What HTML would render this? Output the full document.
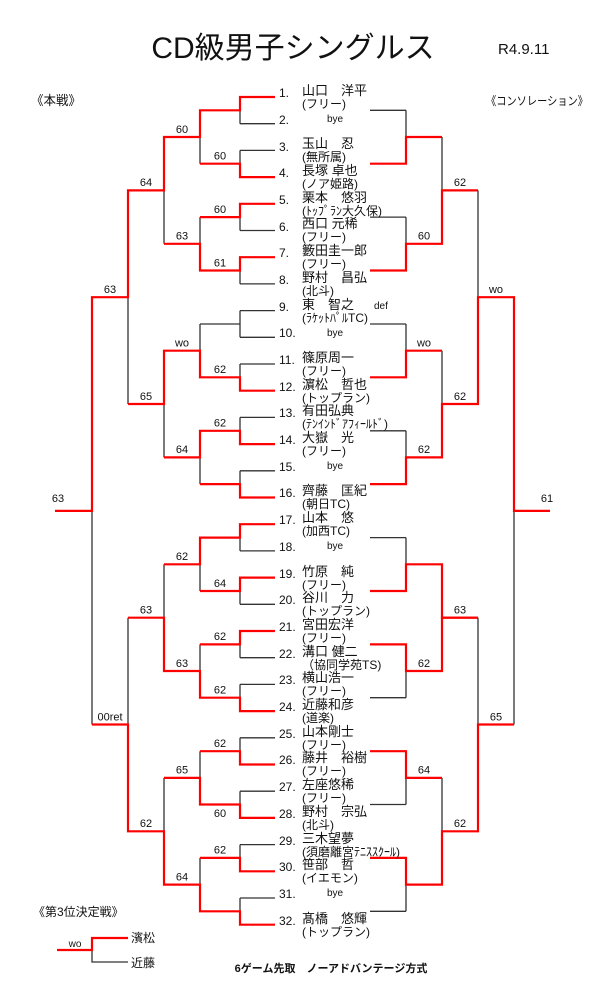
<!DOCTYPE html>
<html><head><meta charset="utf-8"><style>
html,body{margin:0;padding:0;background:#fff}
svg{display:block}
text{font-family:"Liberation Sans","Noto Sans CJK JP",sans-serif;fill:#111}
.n{font-size:12px}.nm{font-size:13px}.af{font-size:12px}.s{font-size:11px;text-anchor:middle}
.by{font-size:10px}
</style></head><body>
<svg width="600" height="1000" viewBox="0 0 600 1000" xmlns="http://www.w3.org/2000/svg">
<text x="293" y="58" font-size="30" text-anchor="middle">CD級男子シングルス</text>
<text x="498" y="54" font-size="15">R4.9.11</text>
<text x="31" y="105" font-size="13" textLength="50" lengthAdjust="spacingAndGlyphs">《本戦》</text>
<text x="486" y="105" font-size="12" textLength="102" lengthAdjust="spacingAndGlyphs">《コンソレーション》</text>

<g fill="none" stroke="#333" stroke-width="1.3">
<path d="M240 97H275M240 123.7H275M240 150.4H275M240 177.1H275M240 203.8H275M240 230.5H275M240 257.2H275M240 283.9H275M240 310.6H275M240 337.3H275M240 364H275M240 390.7H275M240 417.4H275M240 444.1H275M240 470.8H275M240 497.5H275M240 524.2H275M240 550.9H275M240 577.6H275M240 604.3H275M240 631H275M240 657.7H275M240 684.4H275M240 711.1H275M240 737.8H275M240 764.5H275M240 791.2H275M240 817.9H275M240 844.6H275M240 871.3H275M240 898H275M240 924.7H275"/>
<path d="M240 97V123.7M240 150.4V177.1M240 203.8V230.5M240 257.2V283.9M240 310.6V337.3M240 364V390.7M240 417.4V444.1M240 470.8V497.5M240 524.2V550.9M240 577.6V604.3M240 631V657.7M240 684.4V711.1M240 737.8V764.5M240 791.2V817.9M240 844.6V871.3M240 898V924.7"/>
<path d="M200 324H240"/>
<path d="M200 110.3V163.7M200 217.1V270.5M200 324V377.3M200 430.8V484.1M200 537.6V591M200 644.4V697.7M200 751.2V804.5M200 857.9V911.3"/>
<path d="M164 137V243.8M164 350.7V457.4M164 564.3V671M164 777.9V884.6"/>
<path d="M128 190.4V404M128 617.7V831.3M92 297.2V724.5"/>
<path d="M370 110.3H406M370 163.7H406M370 217.1H406M370 270.5H406M370 324H406M370 377.3H406M370 430.8H406M370 484.1H406M370 537.6H406M370 591H406M370 644.4H406M370 697.7H406M370 751.2H406M370 804.5H406M370 857.9H406M370 911.3H406"/>
<path d="M406 110.3V163.7M406 217.1V270.5M406 324V377.3M406 430.8V484.1M406 537.6V591M406 644.4V697.7M406 751.2V804.5M406 857.9V911.3"/>
<path d="M442 137V243.8M442 350.7V457.4M442 564.3V671M442 777.9V884.6M478 190.4V404M478 617.7V831.3M514 297.2V724.5"/>
<path d="M92 938V962H128"/>
</g>

<g fill="none" stroke="#f00" stroke-width="2.2">
<path d="M275 97H240V110.3H200V137H164V190.4H128V297.2H92V510.9H55"/>
<path d="M275 177.1H240V163.7H200"/>
<path d="M275 203.8H240V217.1H200"/>
<path d="M275 257.2H240V270.5H200V243.8H164"/>
<path d="M275 390.7H240V377.3H200V350.7H164V404H128"/>
<path d="M275 444.1H240V430.8H200V457.4H164"/>
<path d="M275 497.5H240V484.1H200"/>
<path d="M275 524.2H240V537.6H200V564.3H164"/>
<path d="M275 577.6H240V591H200"/>
<path d="M275 631H240V644.4H200"/>
<path d="M275 711.1H240V697.7H200V671H164V617.7H128"/>
<path d="M275 764.5H240V751.2H200"/>
<path d="M275 817.9H240V804.5H200V777.9H164"/>
<path d="M275 871.3H240V857.9H200"/>
<path d="M275 924.7H240V911.3H200V884.6H164V831.3H128V724.5H92"/>

<path d="M370 163.7H406V137H442"/>
<path d="M370 270.5H406V243.8H442V190.4H478"/>
<path d="M370 377.3H406V350.7H442"/>
<path d="M370 484.1H406V457.4H442V404H478V297.2H514V510.9H550"/>
<path d="M370 591H406V564.3H442V617.7H478"/>
<path d="M370 644.4H406V671H442V617.7H478"/>
<path d="M370 751.2H406V777.9H442"/>
<path d="M370 857.9H406V884.6H442V831.3H478V724.5H514"/>
<path d="M57 950H92V938H128"/>
</g>

<text class="s" x="220" y="159.5">60</text>
<text class="s" x="220" y="213">60</text>
<text class="s" x="220" y="266.5">61</text>
<text class="s" x="220" y="373">62</text>
<text class="s" x="220" y="426.5">62</text>
<text class="s" x="220" y="587">64</text>
<text class="s" x="220" y="640">62</text>
<text class="s" x="220" y="693.5">62</text>
<text class="s" x="220" y="747">62</text>
<text class="s" x="220" y="817">60</text>
<text class="s" x="220" y="853.5">62</text>
<text class="s" x="182" y="133">60</text>
<text class="s" x="182" y="239.5">63</text>
<text class="s" x="182" y="346.5">wo</text>
<text class="s" x="182" y="453">64</text>
<text class="s" x="182" y="560">62</text>
<text class="s" x="182" y="667">63</text>
<text class="s" x="182" y="773.5">65</text>
<text class="s" x="182" y="880.5">64</text>
<text class="s" x="146" y="186">64</text>
<text class="s" x="146" y="400">65</text>
<text class="s" x="146" y="613.5">63</text>
<text class="s" x="146" y="827">62</text>
<text class="s" x="110" y="293">63</text>
<text class="s" x="110" y="720.5">00ret</text>
<text class="s" x="58" y="502">63</text>

<text class="s" x="424" y="239.5">60</text>
<text class="s" x="424" y="346.5">wo</text>
<text class="s" x="424" y="453">62</text>
<text class="s" x="424" y="667">62</text>
<text class="s" x="424" y="773.5">64</text>
<text class="s" x="460" y="186">62</text>
<text class="s" x="460" y="400">62</text>
<text class="s" x="460" y="613.5">63</text>
<text class="s" x="460" y="827">62</text>
<text class="s" x="496" y="293">wo</text>
<text class="s" x="496" y="720.5">65</text>
<text class="s" x="547" y="502">61</text>

<g>
<text class="n" x="279" y="97">1.</text><text class="nm" x="302" y="95">山口　洋平</text><text class="af" x="302" y="108">(フリー)</text>
<text class="n" x="279" y="124">2.</text><text class="by" x="327" y="122">bye</text>
<text class="n" x="279" y="151">3.</text><text class="nm" x="302" y="148">玉山　忍</text><text class="af" x="302" y="161">(無所属)</text>
<text class="n" x="279" y="177">4.</text><text class="nm" x="302" y="175">長塚 卓也</text><text class="af" x="302" y="188">(ノア姫路)</text>
<text class="n" x="279" y="204">5.</text><text class="nm" x="302" y="202">栗本　悠羽</text><text class="af" x="302" y="215">(ﾄｯﾌﾟﾗﾝ大久保)</text>
<text class="n" x="279" y="231">6.</text><text class="nm" x="302" y="228">西口 元稀</text><text class="af" x="302" y="241">(フリー)</text>
<text class="n" x="279" y="257">7.</text><text class="nm" x="302" y="255">籔田圭一郎</text><text class="af" x="302" y="268">(フリー)</text>
<text class="n" x="279" y="284">8.</text><text class="nm" x="302" y="282">野村　昌弘</text><text class="af" x="302" y="295">(北斗)</text>
<text class="n" x="279" y="311">9.</text><text class="nm" x="302" y="309">東　智之</text><text class="af" x="302" y="322">(ﾗｹｯﾄﾊﾟﾙTC)</text><text class="by" x="374" y="309">def</text>
<text class="n" x="279" y="337">10.</text><text class="by" x="327" y="336">bye</text>
<text class="n" x="279" y="364">11.</text><text class="nm" x="302" y="362">篠原周一</text><text class="af" x="302" y="375">(フリー)</text>
<text class="n" x="279" y="391">12.</text><text class="nm" x="302" y="389">濵松　哲也</text><text class="af" x="302" y="402">(トップラン)</text>
<text class="n" x="279" y="417">13.</text><text class="nm" x="302" y="415">有田弘典</text><text class="af" x="302" y="428">(ﾃﾝｲﾝﾄﾞｱﾌｨｰﾙﾄﾞ)</text>
<text class="n" x="279" y="444">14.</text><text class="nm" x="302" y="442">大嶽　光</text><text class="af" x="302" y="455">(フリー)</text>
<text class="n" x="279" y="471">15.</text><text class="by" x="327" y="469">bye</text>
<text class="n" x="279" y="497">16.</text><text class="nm" x="302" y="495">齊藤　匡紀</text><text class="af" x="302" y="508">(朝日TC)</text>
<text class="n" x="279" y="524">17.</text><text class="nm" x="302" y="522">山本　悠</text><text class="af" x="302" y="535">(加西TC)</text>
<text class="n" x="279" y="551">18.</text><text class="by" x="327" y="549">bye</text>
<text class="n" x="279" y="578">19.</text><text class="nm" x="302" y="576">竹原　純</text><text class="af" x="302" y="589">(フリー)</text>
<text class="n" x="279" y="604">20.</text><text class="nm" x="302" y="602">谷川　力</text><text class="af" x="302" y="615">(トップラン)</text>
<text class="n" x="279" y="631">21.</text><text class="nm" x="302" y="629">宮田宏洋</text><text class="af" x="302" y="642">(フリー)</text>
<text class="n" x="279" y="658">22.</text><text class="nm" x="302" y="656">溝口 健二</text><text class="af" x="302" y="669">（協同学苑TS)</text>
<text class="n" x="279" y="684">23.</text><text class="nm" x="302" y="682">横山浩一</text><text class="af" x="302" y="695">(フリー)</text>
<text class="n" x="279" y="711">24.</text><text class="nm" x="302" y="709">近藤和彦</text><text class="af" x="302" y="722">(道楽)</text>
<text class="n" x="279" y="738">25.</text><text class="nm" x="302" y="736">山本剛士</text><text class="af" x="302" y="749">(フリー)</text>
<text class="n" x="279" y="764">26.</text><text class="nm" x="302" y="762">藤井　裕樹</text><text class="af" x="302" y="775">(フリー)</text>
<text class="n" x="279" y="791">27.</text><text class="nm" x="302" y="789">左座悠稀</text><text class="af" x="302" y="802">(フリー)</text>
<text class="n" x="279" y="818">28.</text><text class="nm" x="302" y="816">野村　宗弘</text><text class="af" x="302" y="829">(北斗)</text>
<text class="n" x="279" y="845">29.</text><text class="nm" x="302" y="843">三木望夢</text><text class="af" x="302" y="856">(須磨離宮ﾃﾆｽｽｸｰﾙ)</text>
<text class="n" x="279" y="871">30.</text><text class="nm" x="302" y="869">笹部　哲</text><text class="af" x="302" y="882">(イエモン)</text>
<text class="n" x="279" y="898">31.</text><text class="by" x="327" y="896">bye</text>
<text class="n" x="279" y="925">32.</text><text class="nm" x="302" y="923">髙橋　悠輝</text><text class="af" x="302" y="936">(トップラン)</text>
</g>

<text x="33" y="916" font-size="12">《第3位決定戦》</text>
<text x="75" y="947" font-size="10" text-anchor="middle">wo</text>
<text x="131" y="942" font-size="12">濱松</text>
<text x="131" y="967" font-size="12">近藤</text>
<text x="331" y="972" font-size="11" font-weight="bold" text-anchor="middle">6ゲーム先取　ノーアドバンテージ方式</text>
</svg>
</body></html>
